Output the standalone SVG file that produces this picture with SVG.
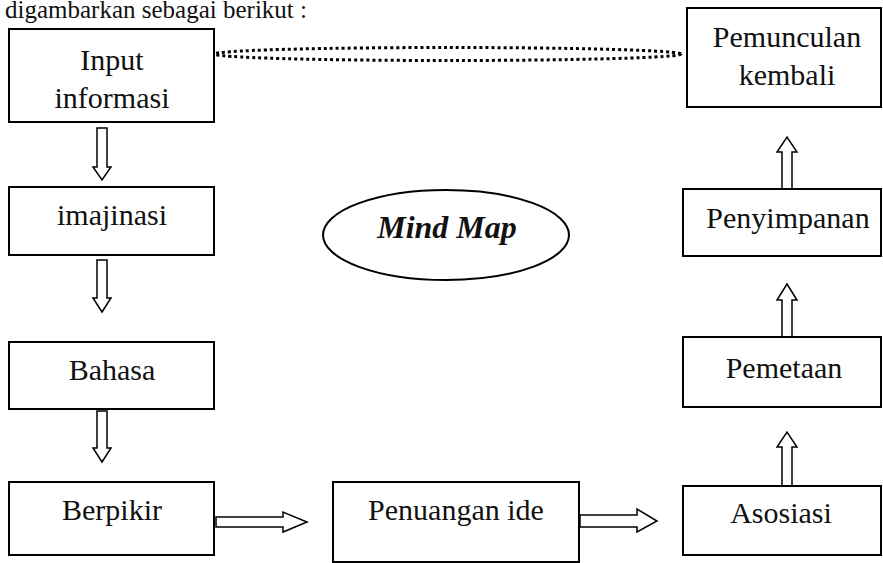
<svg xmlns="http://www.w3.org/2000/svg" width="883" height="563" viewBox="0 0 883 563">
<style>
.box{fill:#fff;stroke:#000;stroke-width:2}
.t{font-family:"Liberation Serif","Times New Roman",serif;font-size:30px;fill:#111;text-anchor:middle}
.arr{fill:#fff;stroke:#000;stroke-width:1.5;stroke-linejoin:miter}
</style>
<rect width="883" height="563" fill="#fff"/>
<text x="5" y="18" style="font-family:'Liberation Serif',serif;font-size:25px;fill:#111">digambarkan sebagai berikut :</text>
<g id="connectors">
<ellipse cx="448" cy="54" rx="233" ry="6.5" fill="none" stroke="#000" stroke-width="3" stroke-dasharray="3 3"/>
<polygon class="arr" points="97,128 107,128 107,167 111,167 102,180 93,167 97,167"/>
<polygon class="arr" points="97,260 107,260 107,298 111,298 102,312 93,298 97,298"/>
<polygon class="arr" points="97,411 107,411 107,448 111,448 102,462 93,448 97,448"/>
<polygon class="arr" points="216,517 283,517 283,512 307,522 283,532 283,527 216,527"/>
<polygon class="arr" points="580,515 637,515 637,509 657,521 637,532 637,527 580,527"/>
<polygon class="arr" points="782,486 782,447 777,447 787,432 797,447 792,447 792,486"/>
<polygon class="arr" points="782,337 782,300 777,300 787,284 797,300 792,300 792,337"/>
<polygon class="arr" points="782,189 782,152 777,152 787,137 797,152 792,152 792,189"/>
</g>
<g id="input"><rect class="box" x="9" y="29" width="205" height="93"/><text class="t" x="112" y="70">Input</text><text class="t" x="112" y="108">informasi</text></g>
<g id="imajinasi"><rect class="box" x="9" y="187" width="205" height="68"/><text class="t" x="112" y="225">imajinasi</text></g>
<g id="bahasa"><rect class="box" x="9" y="342" width="205" height="67"/><text class="t" x="112" y="380">Bahasa</text></g>
<g id="berpikir"><rect class="box" x="9" y="482" width="205" height="73"/><text class="t" x="112" y="520">Berpikir</text></g>
<g id="penuangan"><rect class="box" x="333" y="482" width="246" height="80"/><text class="t" x="456" y="520">Penuangan ide</text></g>
<g id="asosiasi"><rect class="box" x="683" y="486" width="198" height="69"/><text class="t" x="781" y="523">Asosiasi</text></g>
<g id="pemetaan"><rect class="box" x="683" y="337" width="198" height="70"/><text class="t" x="784" y="378">Pemetaan</text></g>
<g id="penyimpanan"><rect class="box" x="683" y="189" width="198" height="67"/><text class="t" x="788" y="228">Penyimpanan</text></g>
<g id="pemunculan"><rect class="box" x="687" y="8" width="194" height="99"/><text class="t" x="787" y="47">Pemunculan</text><text class="t" x="787" y="85">kembali</text></g>
<g id="mindmap"><ellipse cx="446" cy="235" rx="123" ry="45" fill="#fff" stroke="#000" stroke-width="2"/><text x="447" y="238" style="font-family:'Liberation Serif',serif;font-size:32px;font-weight:bold;font-style:italic;fill:#111;text-anchor:middle">Mind Map</text></g>
</svg>
